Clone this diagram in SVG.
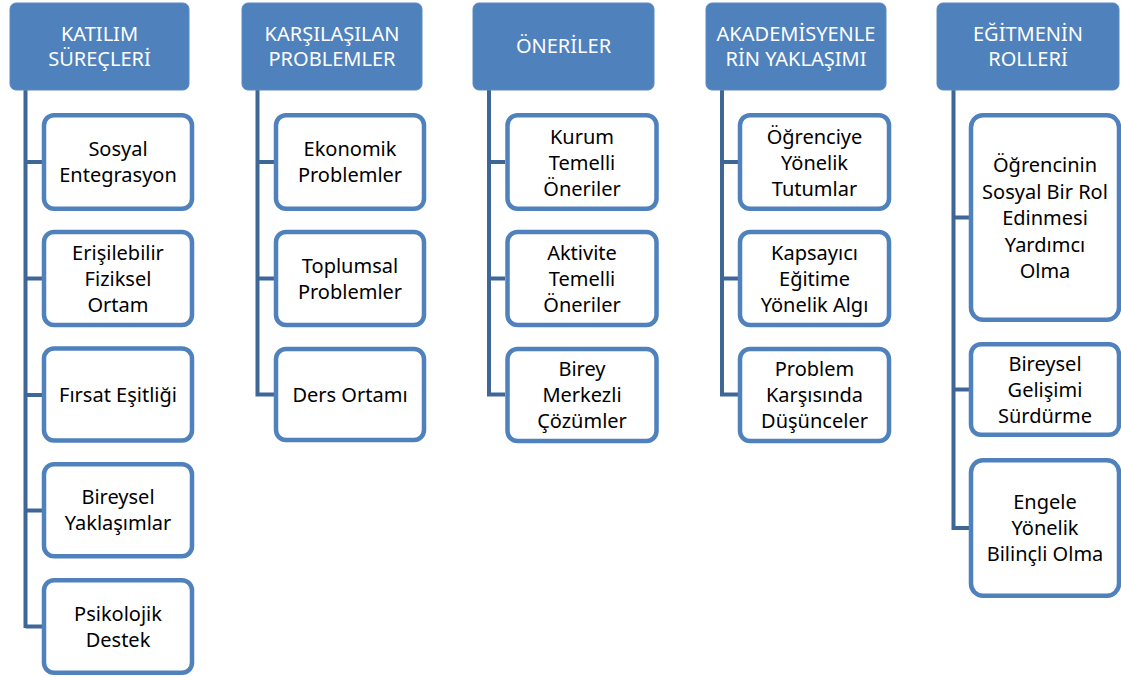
<svg xmlns="http://www.w3.org/2000/svg" width="1121" height="677" viewBox="0 0 1121 677">
<style>
.hdr{fill:#4F81BD;stroke:#5B8AC2;stroke-width:1}
.ht{fill:#FFFFFF;font-family:"Noto Sans","Open Sans",sans-serif;font-size:20px;text-anchor:middle}
.box{fill:#FFFFFF;stroke:#4F81BD;stroke-width:4.5}
.bt{fill:#000000;font-family:"Noto Sans","Open Sans",sans-serif;font-size:20px;text-anchor:middle}
.con{fill:none;stroke:#3E6797;stroke-width:4}
</style>
<rect width="1121" height="677" fill="#FFFFFF"/>
<g id="connectors">
<path class="con" d="M25.5,90 V628 M25.5,162 H42 M25.5,278.5 H42 M25.5,395 H42 M25.5,510.5 H42 M25.5,626.5 H42"/>
<path class="con" d="M257.5,90 V396.5 M257.5,162 H274 M257.5,278.5 H274 M257.5,394.5 H274"/>
<path class="con" d="M489,90 V396.5 M489,162 H505 M489,278.5 H505 M489,394.5 H505"/>
<path class="con" d="M722,90 V396.5 M722,162 H738 M722,278.5 H738 M722,394.5 H738"/>
<path class="con" d="M953.5,90 V530 M953.5,217.5 H969 M953.5,389.5 H969 M953.5,528 H969"/>
</g>
<g id="h1"><rect class="hdr" x="10" y="3" width="179" height="87" rx="6"/><text class="ht" x="99.5" y="40.5"><tspan x="99.5">KATILIM</tspan><tspan x="99.5" dy="25.5">SÜREÇLERİ</tspan></text></g>
<g id="n1a"><rect class="box" x="44" y="115.25" width="148" height="93.5" rx="10"/><text class="bt" x="118" y="156"><tspan x="118">Sosyal</tspan><tspan x="118" dy="26">Entegrasyon</tspan></text></g>
<g id="n1b"><rect class="box" x="44" y="232" width="148" height="93" rx="10"/><text class="bt" x="118" y="259.5"><tspan x="118">Erişilebilir</tspan><tspan x="118" dy="26">Fiziksel</tspan><tspan x="118" dy="26">Ortam</tspan></text></g>
<g id="n1c"><rect class="box" x="44" y="348.5" width="148" height="92" rx="10"/><text class="bt" x="118" y="401.5">Fırsat Eşitliği</text></g>
<g id="n1d"><rect class="box" x="44" y="464.25" width="148" height="92" rx="10"/><text class="bt" x="118" y="504">Bireysel<tspan x="118" dy="26">Yaklaşımlar</tspan></text></g>
<g id="n1e"><rect class="box" x="44" y="580.25" width="148" height="92.5" rx="10"/><text class="bt" x="118" y="620.5">Psikolojik<tspan x="118" dy="26">Destek</tspan></text></g>

<g id="h2"><rect class="hdr" x="242" y="3" width="180" height="87" rx="6"/><text class="ht" x="332" y="40.5"><tspan x="332">KARŞILAŞILAN</tspan><tspan x="332" dy="25.5">PROBLEMLER</tspan></text></g>
<g id="n2a"><rect class="box" x="276" y="115.25" width="148" height="93.5" rx="10"/><text class="bt" x="350" y="156">Ekonomik<tspan x="350" dy="26">Problemler</tspan></text></g>
<g id="n2b"><rect class="box" x="276" y="232" width="148" height="93" rx="10"/><text class="bt" x="350" y="272.5">Toplumsal<tspan x="350" dy="26">Problemler</tspan></text></g>
<g id="n2c"><rect class="box" x="276" y="349" width="148" height="91" rx="10"/><text class="bt" x="350" y="401.5">Ders Ortamı</text></g>

<g id="h3"><rect class="hdr" x="473" y="3" width="181" height="87" rx="6"/><text class="ht" x="563.5" y="53">ÖNERİLER</text></g>
<g id="n3a"><rect class="box" x="507.5" y="115.25" width="149" height="93.5" rx="10"/><text class="bt" x="582" y="143.5">Kurum<tspan x="582" dy="26">Temelli</tspan><tspan x="582" dy="26">Öneriler</tspan></text></g>
<g id="n3b"><rect class="box" x="507.5" y="232" width="149" height="93" rx="10"/><text class="bt" x="582" y="259.5">Aktivite<tspan x="582" dy="26">Temelli</tspan><tspan x="582" dy="26">Öneriler</tspan></text></g>
<g id="n3c"><rect class="box" x="507.5" y="349" width="149" height="92" rx="10"/><text class="bt" x="582" y="375.5">Birey<tspan x="582" dy="26">Merkezli</tspan><tspan x="582" dy="26">Çözümler</tspan></text></g>

<g id="h4"><rect class="hdr" x="706" y="3" width="180" height="87" rx="6"/><text class="ht" x="796" y="40.5">AKADEMİSYENLE<tspan x="796" dy="25.5">RİN YAKLAŞIMI</tspan></text></g>
<g id="n4a"><rect class="box" x="740" y="115.25" width="149" height="93.5" rx="10"/><text class="bt" x="814.5" y="143.5">Öğrenciye<tspan x="814.5" dy="26">Yönelik</tspan><tspan x="814.5" dy="26">Tutumlar</tspan></text></g>
<g id="n4b"><rect class="box" x="740" y="232" width="149" height="93" rx="10"/><text class="bt" x="814.5" y="259.5">Kapsayıcı<tspan x="814.5" dy="26">Eğitime</tspan><tspan x="814.5" dy="26">Yönelik Algı</tspan></text></g>
<g id="n4c"><rect class="box" x="740" y="349" width="149" height="92" rx="10"/><text class="bt" x="814.5" y="375.5">Problem<tspan x="814.5" dy="26">Karşısında</tspan><tspan x="814.5" dy="26">Düşünceler</tspan></text></g>

<g id="h5"><rect class="hdr" x="937" y="3" width="182" height="87" rx="6"/><text class="ht" x="1028" y="40.5">EĞİTMENİN<tspan x="1028" dy="25.5">ROLLERİ</tspan></text></g>
<g id="n5a"><rect class="box" x="971" y="115.25" width="148" height="204.5" rx="12"/><text class="bt" x="1045" y="172">Öğrencinin<tspan x="1045" dy="26.5">Sosyal Bir Rol</tspan><tspan x="1045" dy="26.5">Edinmesi</tspan><tspan x="1045" dy="26.5">Yardımcı</tspan><tspan x="1045" dy="26.5">Olma</tspan></text></g>
<g id="n5b"><rect class="box" x="971" y="344.25" width="148" height="90.5" rx="10"/><text class="bt" x="1045" y="370.5">Bireysel<tspan x="1045" dy="26">Gelişimi</tspan><tspan x="1045" dy="26">Sürdürme</tspan></text></g>
<g id="n5c"><rect class="box" x="971" y="460.25" width="148" height="135.5" rx="12"/><text class="bt" x="1045" y="509">Engele<tspan x="1045" dy="26">Yönelik</tspan><tspan x="1045" dy="26">Bilinçli Olma</tspan></text></g>
</svg>
